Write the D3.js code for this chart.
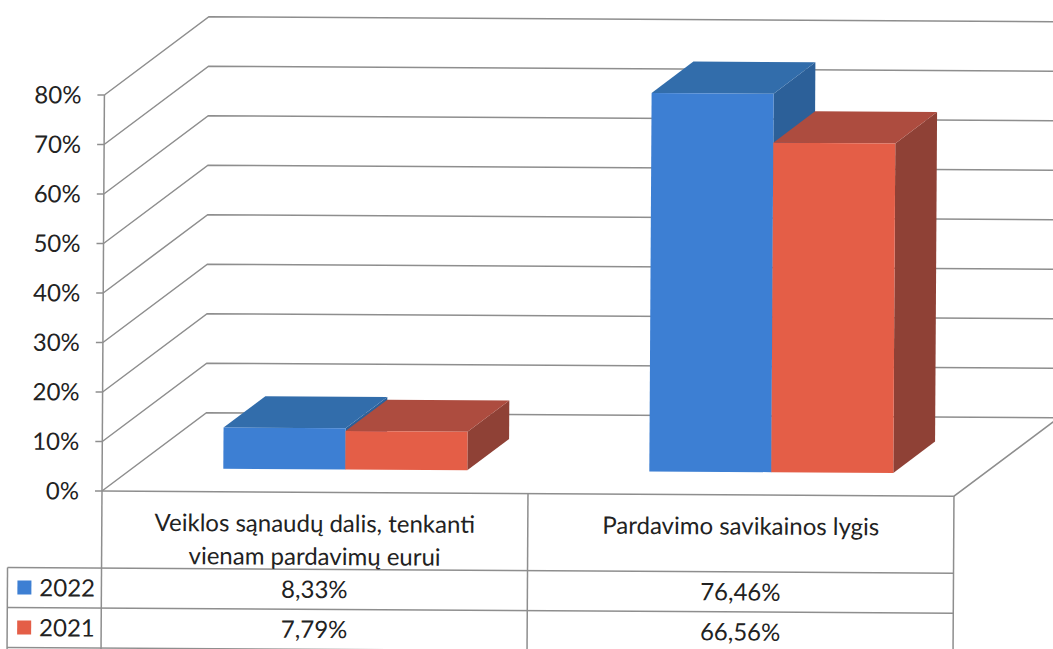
<!DOCTYPE html>
<html>
<head>
<meta charset="utf-8">
<script src="https://cdn.jsdelivr.net/npm/d3@7"></script>
<style>
  html, body { margin: 0; padding: 0; background: #fff; }
  svg { display: block; }
  text { font-family: Lato, "Open Sans", sans-serif; fill: #222; }
</style>
</head>
<body>
<div id="chart"></div>
<script>
const categories = ["Veiklos sąnaudų dalis, tenkanti vienam pardavimų eurui", "Pardavimo savikainos lygis"];
const categoryLines = [["Veiklos sąnaudų dalis, tenkanti", "vienam pardavimų eurui"], ["Pardavimo savikainos lygis"]];
const seriesNames = ["2022", "2021"];
const values2022 = [0.0833, 0.7646];
const values2021 = [0.0779, 0.6656];
const yTicks = [0, 0.1, 0.2, 0.3, 0.4, 0.5, 0.6, 0.7, 0.8];

const W = 1053, H = 649;
const x0 = 102, x1 = 954, yBase = 491, yTop = 95;
const depth = {dx: 104, dy: -79};   // wall depth
const barFront = 0.29, barBack = 0.69;

const colors = {
    "2022": {front: "#3d7fd3", top: "#326dab", side: "#2c6099"},
    "2021": {front: "#e45e47", top: "#ad4c3f", side: "#8f4136"}
};
const gridColor = "#8e8e8e";

const series = [
    {name: "2022", values: values2022},
    {name: "2021", values: values2021}
];

const y = d3.scaleLinear().domain([0, 0.8]).range([yBase, yTop]);
const x = d3.scaleBand().domain(categories).range([x0, x1]);
const xs = d3.scaleBand().domain(seriesNames).range([0, x.bandwidth()]).paddingOuter(0.746);
const z = d3.scaleLinear().domain([0, 1]).range([0, 1]);

const pct = d3.format(".0%");
const lt = d3.formatLocale({decimal: ",", thousands: " ", grouping: [3], currency: ["", "€"]});
const pct2 = lt.format(".2%");

function proj(px, py, d) {
    return [px + z(d) * depth.dx, py + z(d) * depth.dy];
}

const svg = d3.select("#chart").append("svg")
    .attr("width", W)
    .attr("height", H);

const g = svg.append("g").attr("transform", "rotate(0.35," + x0 + "," + yBase + ")");

// walls / gridlines
const grid = g.append("g").attr("fill", "none").attr("stroke", gridColor).attr("stroke-width", 1.5);

grid.selectAll("path.gl")
    .data(yTicks)
    .enter().append("path")
    .attr("class", "gl")
    .attr("d", function (t) {
        let a = proj(x0, y(t), 0), b = proj(x0, y(t), 1), c = proj(x1 + 20, y(t), 1);
        return "M" + a + "L" + b + "L" + c;
    });

// floor
grid.append("path")
    .attr("d", "M" + proj(x0, yBase, 0) + "L" + proj(x1, yBase, 0) + "L" + proj(x1, yBase, 1));

// y axis
grid.append("line")
    .attr("x1", x0).attr("x2", x0)
    .attr("y1", y(0.8)).attr("y2", yBase);

grid.selectAll("line.tick")
    .data(yTicks)
    .enter().append("line")
    .attr("class", "tick")
    .attr("x1", x0 - 7).attr("x2", x0)
    .attr("y1", d => y(d)).attr("y2", d => y(d));

g.append("g").selectAll("text")
    .data(yTicks)
    .enter().append("text")
    .attr("x", x0 - 23)
    .attr("y", d => y(d))
    .attr("dy", "0.36em")
    .attr("text-anchor", "end")
    .style("font-size", "24px")
    .text(d => pct(d));

// bars
const bars = g.append("g");
categories.forEach(function (cat, ci) {
    series.forEach(function (s) {
        let v = s.values[ci];
        let bx0 = x(cat) + xs(s.name), bx1 = bx0 + xs.bandwidth();
        let yb = y(0), yt = y(v);
        let c = colors[s.name];
        let fbl = proj(bx0, yb, barFront), fbr = proj(bx1, yb, barFront),
            ftl = proj(bx0, yt, barFront), ftr = proj(bx1, yt, barFront),
            btl = proj(bx0, yt, barBack), btr = proj(bx1, yt, barBack),
            bbr = proj(bx1, yb, barBack);
        bars.append("path")
            .attr("fill", c.side)
            .attr("d", "M" + fbr + "L" + ftr + "L" + btr + "L" + bbr + "Z");
        bars.append("path")
            .attr("fill", c.top)
            .attr("d", "M" + ftl + "L" + ftr + "L" + btr + "L" + btl + "Z");
        bars.append("path")
            .attr("fill", c.front)
            .attr("d", "M" + fbl + "L" + fbr + "L" + ftr + "L" + ftl + "Z");
    });
});

// data table
const rowTop = 568, rowH = 40, legendX = 8;
const table = g.append("g").attr("fill", "none").attr("stroke", gridColor).attr("stroke-width", 1.5);

[x0, x0 + x.bandwidth(), x1].forEach(function (vx) {
    table.append("line").attr("x1", vx).attr("x2", vx).attr("y1", yBase).attr("y2", H + 10);
});
table.append("line").attr("x1", legendX).attr("x2", legendX).attr("y1", rowTop).attr("y2", H + 10);
[rowTop, rowTop + rowH, rowTop + 2 * rowH].forEach(function (ry) {
    table.append("line").attr("x1", legendX).attr("x2", x1).attr("y1", ry).attr("y2", ry);
});

const heads = g.append("g");
categories.forEach(function (cat, ci) {
    heads.selectAll(null)
        .data(categoryLines[ci])
        .enter().append("text")
        .attr("x", x(cat) + x.bandwidth() / 2)
        .attr("y", (d, i) => 522 + i * 33)
        .attr("dy", "0.36em")
        .attr("text-anchor", "middle")
        .style("font-size", "24px")
        .text(d => d);
});

series.forEach(function (s, si) {
    let cy = rowTop + rowH * si + rowH / 2;
    g.append("rect")
        .attr("x", 18).attr("y", cy - 7)
        .attr("width", 14).attr("height", 14)
        .attr("fill", colors[s.name].front);
    g.append("text")
        .attr("x", 40).attr("y", cy)
        .attr("dy", "0.36em")
        .style("font-size", "24px")
        .text(s.name);
    g.selectAll(null)
        .data(s.values)
        .enter().append("text")
        .attr("x", (d, i) => x(categories[i]) + x.bandwidth() / 2)
        .attr("y", cy)
        .attr("dy", "0.36em")
        .attr("text-anchor", "middle")
        .style("font-size", "24px")
        .text(d => pct2(d));
});
</script>
</body>
</html>
